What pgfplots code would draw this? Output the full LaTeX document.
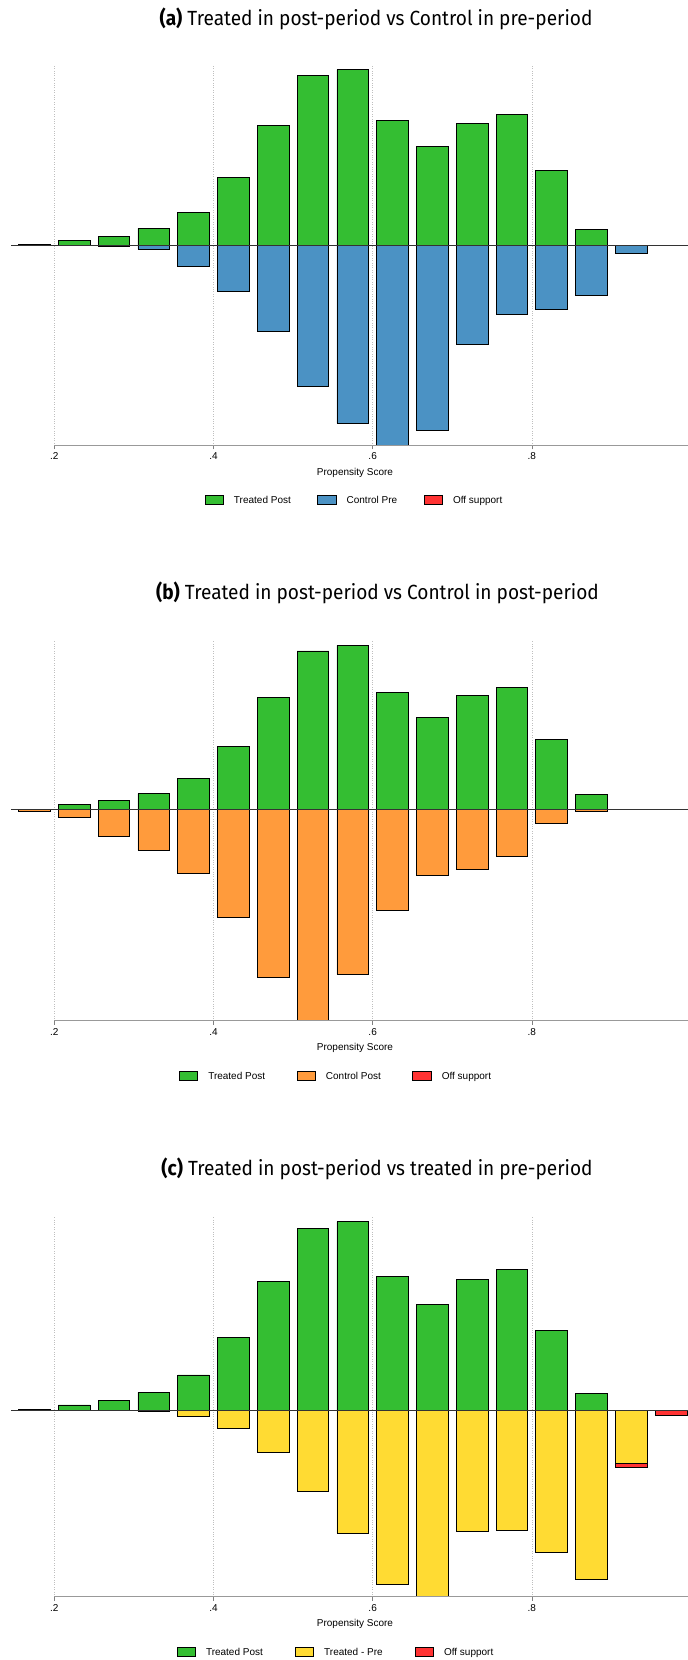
\documentclass[border=0pt]{standalone}
\usepackage{fontspec}
\setmainfont{Liberation Sans}
\newfontfamily\titlefont[FakeStretch=0.93]{Fira Sans}
\usepackage{pgfplots}
\pgfplotsset{compat=1.18}

\definecolor{tgreen}{RGB}{52,190,50}
\definecolor{cblue}{RGB}{75,146,196}
\definecolor{corange}{RGB}{255,155,60}
\definecolor{tyellow}{RGB}{255,219,51}
\definecolor{offred}{RGB}{255,51,51}

\pgfplotsset{
  pbar/.style={ybar, bar width=31.7pt, bar shift=0pt, draw=black, line width=0.8pt,
    legend image code/.code={\draw[##1,/tikz/.cd,line width=0.8pt] (0pt,-4.5pt) rectangle (18.5pt,4.5pt);}},
  panel/.style={
    scale only axis, width=677pt, height=380pt,
    xmin=0.1455, xmax=0.9963,
    axis line style={draw=none},
    ytick=\empty,
    xtick={0.2,0.4,0.6,0.8}, xticklabels={.2,.4,.6,.8},
    xtick pos=left, tick align=outside, major tick length=4pt,
    tick style={gray, line width=0.6pt},
    xmajorgrids, grid style={dotted, gray!50, line width=0.6pt},
    ticklabel style={font=\fontsize{10}{12}\selectfont},
    xlabel={Propensity Score},
    xlabel style={font=\fontsize{10}{12}\selectfont, at={(axis description cs:0.5081,-0.0721)}, anchor=center},
    clip=false,
    legend columns=3,
    legend style={draw=none, fill=none, font=\fontsize{10}{12}\selectfont, anchor=center, inner sep=0pt,
      nodes={inner sep=0pt},
      /tikz/every odd column/.append style={column sep=10pt}},
  },
}

\begin{document}
\begin{tikzpicture}
\path[use as bounding box] (0,0) rectangle (688pt,-1660pt);

% (a)
\node[font=\titlefont\fontsize{20.5}{24}\selectfont] at (376pt,-19pt) {\textbf{(a)} Treated in post-period vs Control in pre-period};
\begin{axis}[panel, at={(11pt,-445.3pt)}, anchor=south west,
  ymin=-200.3, ymax=180,
  legend style={at={(0.5059,-0.1447)}, /tikz/every even column/.append style={column sep=26.5pt}}]
\addplot[pbar, fill=tgreen] coordinates {(0.175,0.8) (0.225,5) (0.275,9) (0.325,16.7) (0.375,33) (0.425,67.7) (0.475,120) (0.525,169.7) (0.575,175.7) (0.625,124.7) (0.675,98.7) (0.725,122) (0.775,131) (0.825,74.7) (0.875,15.7)};
\addlegendentry{Treated Post}
\addplot[pbar, fill=cblue] coordinates {(0.175,-0.6) (0.275,-1) (0.325,-4.3) (0.375,-21) (0.425,-46.7) (0.475,-86.7) (0.525,-141.3) (0.575,-178.3) (0.625,-200.3) (0.675,-185) (0.725,-99.3) (0.775,-69.3) (0.825,-64.3) (0.875,-50) (0.925,-8.3)};
\addlegendentry{Control Pre}
\addlegendimage{pbar, fill=offred}
\addlegendentry{Off support}
\addplot[black!80, line width=0.9pt, forget plot] coordinates {(0.1455,0) (0.9963,0)};
\addplot[gray!80, line width=1pt, forget plot] coordinates {(0.2,-200.3) (0.9963,-200.3)};
\end{axis}

% (b)
\node[font=\titlefont\fontsize{20.5}{24}\selectfont] at (377.5pt,-593pt) {\textbf{(b)} Treated in post-period vs Control in post-period};
\begin{axis}[panel, at={(11pt,-1020.7pt)}, anchor=south west,
  ymin=-227.1, ymax=180.7,
  legend style={at={(0.4786,-0.1463)}, /tikz/every even column/.append style={column sep=31.5pt}}]
\addplot[pbar, fill=tgreen] coordinates {(0.225,5) (0.275,9) (0.325,16.7) (0.375,33) (0.425,67.7) (0.475,120) (0.525,169.7) (0.575,175.7) (0.625,124.7) (0.675,98.7) (0.725,122) (0.775,131) (0.825,74.7) (0.875,15.7)};
\addlegendentry{Treated Post}
\addplot[pbar, fill=corange] coordinates {(0.175,-2.9) (0.225,-8.6) (0.275,-29.3) (0.325,-44.4) (0.375,-68.7) (0.425,-116) (0.475,-180.5) (0.525,-227.1) (0.575,-177.6) (0.625,-108.2) (0.675,-71.6) (0.725,-65.2) (0.775,-50.5) (0.825,-15.4) (0.875,-2.1)};
\addlegendentry{Control Post}
\addlegendimage{pbar, fill=offred}
\addlegendentry{Off support}
\addplot[black!80, line width=0.9pt, forget plot] coordinates {(0.1455,0) (0.9963,0)};
\addplot[gray!80, line width=1pt, forget plot] coordinates {(0.2,-227.1) (0.9963,-227.1)};
\end{axis}

% (c)
\node[font=\titlefont\fontsize{20.5}{24}\selectfont] at (377pt,-1169pt) {\textbf{(c)} Treated in post-period vs treated in pre-period};
\begin{axis}[panel, at={(11pt,-1596.7pt)}, anchor=south west,
  ymin=-173.6, ymax=180.35,
  legend style={at={(0.4786,-0.1463)}, /tikz/every even column/.append style={column sep=32pt}}]
\addplot[pbar, fill=offred, forget plot] coordinates {(0.925,-53.3) (0.975,-4.9)};
\addplot[pbar, fill=tgreen] coordinates {(0.175,0.8) (0.225,5) (0.275,9) (0.325,16.7) (0.375,33) (0.425,67.7) (0.475,120) (0.525,169.7) (0.575,175.7) (0.625,124.7) (0.675,98.7) (0.725,122) (0.775,131) (0.825,74.7) (0.875,15.7)};
\addlegendentry{Treated Post}
\addplot[pbar, fill=tyellow] coordinates {(0.325,-0.9) (0.375,-5.6) (0.425,-17) (0.475,-38.8) (0.525,-75.3) (0.575,-114.6) (0.625,-162) (0.675,-173.6) (0.725,-113.1) (0.775,-111.8) (0.825,-132) (0.875,-157.1) (0.925,-49)};
\addlegendentry{Treated - Pre}
\addlegendimage{pbar, fill=offred}
\addlegendentry{Off support}
\addplot[black!80, line width=0.9pt, forget plot] coordinates {(0.1455,0) (0.9963,0)};
\addplot[gray!80, line width=1pt, forget plot] coordinates {(0.2,-173.6) (0.9963,-173.6)};
\end{axis}
\end{tikzpicture}
\end{document}
